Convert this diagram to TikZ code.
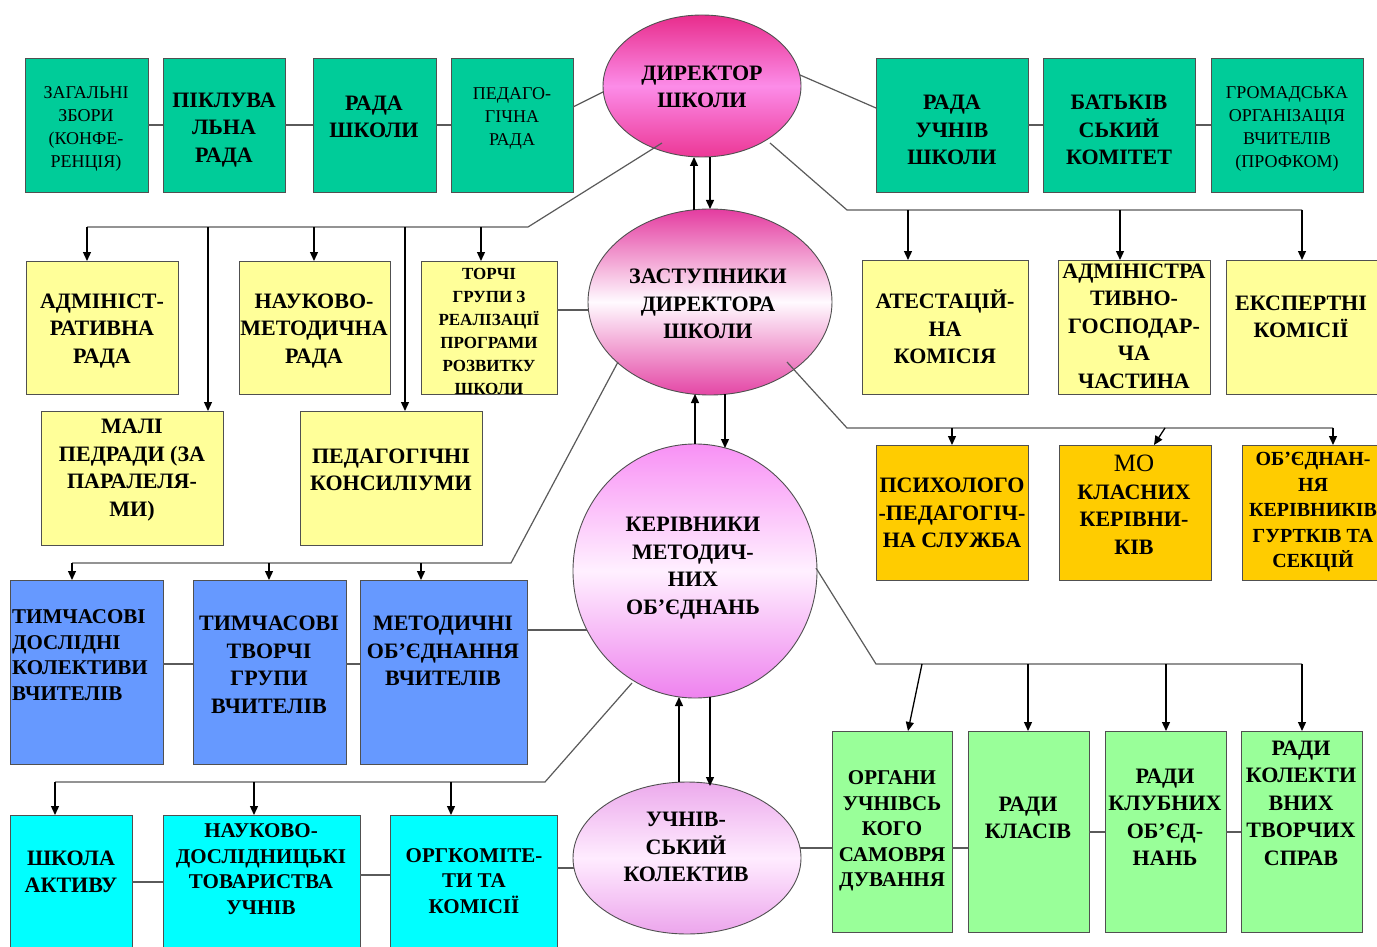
\documentclass[tikz,border=0pt]{standalone}
\usepackage{fontspec}
\setmainfont{Liberation Serif}
\usetikzlibrary{shapes.geometric,arrows.meta,calc}
\definecolor{cTeal}{RGB}{0,204,153}
\definecolor{cYel}{RGB}{255,255,153}
\definecolor{cOra}{RGB}{255,204,0}
\definecolor{cBlue}{RGB}{102,153,255}
\definecolor{cCyan}{RGB}{0,255,255}
\definecolor{cGreen}{RGB}{153,255,153}
\definecolor{cLine}{RGB}{90,90,90}
\definecolor{cEdge}{RGB}{80,80,80}
\definecolor{dTop}{RGB}{232,45,140}
\definecolor{dMid}{RGB}{252,140,232}
\definecolor{dBot}{RGB}{236,55,150}
\definecolor{zTop}{RGB}{228,60,160}
\definecolor{zMid}{RGB}{255,250,255}
\definecolor{zBot}{RGB}{228,70,165}
\definecolor{kTop}{RGB}{248,145,245}
\definecolor{kMid}{RGB}{255,240,255}
\definecolor{kBot}{RGB}{238,130,238}
\definecolor{uTop}{RGB}{236,170,236}
\definecolor{uMid}{RGB}{255,236,255}
\definecolor{uBot}{RGB}{236,165,236}
\newcommand\rbox[6]{\node[boxst, fill=#6, anchor=north west, minimum width={(#4-#2)*1pt}, minimum height={(#5-#3)*1pt}] (#1) at (#2,#3) {};}
\begin{document}
\begin{tikzpicture}[x=1pt,y=-1pt,
  boxst/.style={draw=cEdge, line width=0.9pt, inner sep=0pt, outer sep=0pt},
  ell/.style={ellipse, draw=cEdge, line width=0.9pt, inner sep=0pt, outer sep=0pt},
  tA/.style={font=\fontsize{22}{27.5}\selectfont\bfseries, align=center, inner sep=0pt},
  tS/.style={font=\fontsize{18}{23}\selectfont, align=center, inner sep=0pt},
  tT/.style={font=\fontsize{17}{23}\selectfont\bfseries, align=center, inner sep=0pt},
  tB/.style={font=\fontsize{21}{25.5}\selectfont\bfseries, align=center, inner sep=0pt},
  conn/.style={draw=cLine, line width=1.2pt},
  arr/.style={draw=black, line width=1.3pt, -{Triangle[length=9pt,width=8pt]}}]
\useasboundingbox (0,0) rectangle (1377,947);
\clip (0,0) rectangle (1377,947);
\fill[white] (0,0) rectangle (1377,947);
% ---- boxes ----
\rbox{b1}{25}{58}{148}{192}{cTeal}
\rbox{b2}{163}{58}{285}{192}{cTeal}
\rbox{b3}{313}{58}{436}{192}{cTeal}
\rbox{b4}{451}{58}{573}{192}{cTeal}
\rbox{r1}{876}{58}{1028}{192}{cTeal}
\rbox{r2}{1043}{58}{1195}{192}{cTeal}
\rbox{r3}{1211}{58}{1363}{192}{cTeal}
\rbox{adm}{26}{261}{178}{394}{cYel}
\rbox{nmr}{239}{261}{390}{394}{cYel}
\rbox{tg}{421}{261}{557}{394}{cYel}
\rbox{mp}{41}{411}{223}{545}{cYel}
\rbox{pk}{300}{411}{482}{545}{cYel}
\rbox{at}{862}{260}{1028}{394}{cYel}
\rbox{ag}{1058}{260}{1210}{394}{cYel}
\rbox{ek}{1226}{260}{1395}{394}{cYel}
\rbox{ps}{876}{445}{1028}{580}{cOra}
\rbox{mk}{1059}{445}{1211}{580}{cOra}
\rbox{ob}{1242}{445}{1395}{580}{cOra}
\rbox{td}{10}{580}{163}{764}{cBlue}
\rbox{tt}{193}{580}{346}{764}{cBlue}
\rbox{mt}{360}{580}{527}{764}{cBlue}
\rbox{sa}{10}{815}{132}{960}{cCyan}
\rbox{nd}{163}{815}{360}{960}{cCyan}
\rbox{ok}{390}{815}{557}{960}{cCyan}
\rbox{g1}{832}{731}{952}{932}{cGreen}
\rbox{g2}{968}{731}{1089}{932}{cGreen}
\rbox{g3}{1105}{731}{1226}{932}{cGreen}
\rbox{g4}{1241}{731}{1362}{932}{cGreen}
% ---- ellipses ----
\node[ell, minimum width=198pt, minimum height=142pt, top color=dTop, bottom color=dBot, middle color=dMid] (dir) at (702,86) {};
\node[ell, minimum width=244pt, minimum height=186pt, top color=zTop, bottom color=zBot, middle color=zMid] (zast) at (710,302) {};
\node[ell, minimum width=244pt, minimum height=254pt, top color=kTop, bottom color=kBot, middle color=kMid] (ker) at (695,571) {};
\node[ell, minimum width=228pt, minimum height=152pt, top color=uTop, bottom color=uBot, middle color=uMid] (uch) at (687,858) {};
% ---- plain connectors ----
\draw[conn] (b1.east) -- (b2.west);
\draw[conn] (b2.east) -- (b3.west);
\draw[conn] (b3.east) -- (b4.west);
\draw[conn] (r1.east) -- (r2.west);
\draw[conn] (r2.east) -- (r3.west);
\draw[conn] ($(dir.center)+(-99,6)$) -- (b4.east |- 0,107);
\draw[conn] ($(dir.center)+(98,-11)$) -- (r1.west |- 0,108);
\draw[conn] (tg.east |- 0,310) -- ($(zast.center)+(-122,8)$);
\draw[conn] (mt.east |- 0,630) -- ($(ker.center)+(-108,59)$);
\draw[conn] (td.east |- 0,664) -- (tt.west |- 0,664);
\draw[conn] (tt.east |- 0,664) -- (mt.west |- 0,664);
\draw[conn] (sa.east |- 0,882) -- (nd.west |- 0,882);
\draw[conn] (nd.east |- 0,875) -- (ok.west |- 0,875);
\draw[conn] (ok.east |- 0,868) -- ($(uch.center)+(-113,10)$);
\draw[conn] ($(uch.center)+(113,-10)$) -- (g1.west |- 0,848);
\draw[conn] (g1.east |- 0,848) -- (g2.west |- 0,848);
\draw[conn] (g2.east |- 0,832) -- (g3.west |- 0,832);
\draw[conn] (g3.east |- 0,832) -- (g4.west |- 0,832);
% ---- buses ----
\coordinate (LA) at (528,227);
\draw[conn] ($(dir.center)+(-40,57)$) -- (LA) -- (87,227);
\foreach \x/\t in {87/adm,208/mp,314/nmr,405/pk,481/tg}
  \draw[arr] (\x,227) -- (\x,0 |- \t.north);
\coordinate (RA) at (847,210);
\draw[conn] ($(dir.center)+(68,57)$) -- (RA) -- (1302,210);
\foreach \x/\t in {908/at,1120/ag,1302/ek}
  \draw[arr] (\x,210) -- (\x,0 |- \t.north);
\coordinate (RB) at (847,428);
\draw[conn] ($(zast.center)+(77,60)$) -- (RB) -- (1333,428);
\draw[arr] (952,428) -- (952,0 |- ps.north);
\draw[arr] (1165,428) -- (1154,0 |- mk.north);
\draw[arr] (1333,428) -- (1333,0 |- ob.north);
\coordinate (LB) at (511,563);
\draw[conn] ($(zast.center)+(-92,60)$) -- (LB) -- (72,563);
\foreach \x/\t in {72/td,269/tt,421/mt}
  \draw[arr] (\x,563) -- (\x,0 |- \t.north);
\coordinate (LC) at (545,782);
\draw[conn] ($(ker.center)+(-63,112)$) -- (LC) -- (55,782);
\foreach \x/\t in {55/sa,254/nd,451/ok}
  \draw[arr] (\x,782) -- (\x,0 |- \t.north);
\coordinate (RC) at (876,664);
\draw[conn] ($(ker.center)+(121,-3)$) -- (RC) -- (1302,664);
\draw[arr] (922,664) -- (908,0 |- g1.north);
\foreach \x/\t in {1028/g2,1166/g3,1302/g4}
  \draw[arr] (\x,664) -- (\x,0 |- \t.north);
% ---- arrows between ellipses ----
\draw[arr] ($(zast.center)+(-16,-92)$) -- ($(dir.center)+(-8,71)$);
\draw[arr] ($(dir.center)+(8,71)$) -- ($(zast.center)+(0,-93)$);
\draw[arr] ($(ker.center)+(0,-127)$) -- ($(zast.center)+(-15,92)$);
\draw[arr] ($(zast.center)+(15,92)$) -- ($(ker.center)+(30,-123)$);
\draw[arr] ($(uch.center)+(-8,-76)$) -- ($(ker.center)+(-16,126)$);
\draw[arr] ($(ker.center)+(15,126)$) -- ($(uch.center)+(23,-72)$);
% ---- texts ----
\node[tS] (b1t) at (86,129) {ЗАГАЛЬНІ\\ЗБОРИ\\(КОНФЕ-\\РЕНЦІЯ)};
\node[tA] (b2t) at (224,130) {ПІКЛУВА\\ЛЬНА\\РАДА};
\node[tA] (b3t) at (374,117) {РАДА\\ШКОЛИ};
\node[tS] (b4t) at (512,118) {ПЕДАГО-\\ГІЧНА\\РАДА};
\node[tA] (r1t) at (952,130) {РАДА\\УЧНІВ\\ШКОЛИ};
\node[tA] (r2t) at (1119,130) {БАТЬКІВ\\СЬКИЙ\\КОМІТЕТ};
\node[tS] (r3t) at (1287,129) {ГРОМАДСЬКА\\ОРГАНІЗАЦІЯ\\ВЧИТЕЛІВ\\(ПРОФКОМ)};
\node[tA] (dirt) at (702,87) {ДИРЕКТОР\\ШКОЛИ};
\node[tA] (admt) at (102,331) {АДМІНІСТ-\\РАТИВНА\\РАДА};
\node[tA] (nmrt) at (314,331) {НАУКОВО-\\МЕТОДИЧНА\\РАДА};
\node[tT] (tgt) at (489,331) {ТОРЧІ\\ГРУПИ З\\РЕАЛІЗАЦІЇ\\ПРОГРАМИ\\РОЗВИТКУ\\ШКОЛИ};
\node[tA] (mpt) at (132,470) {МАЛІ\\ПЕДРАДИ (ЗА\\ПАРАЛЕЛЯ-\\МИ)};
\node[tA] (pkt) at (391,470) {ПЕДАГОГІЧНІ\\КОНСИЛІУМИ};
\node[tA] (zastt) at (708,304) {ЗАСТУПНИКИ\\ДИРЕКТОРА\\ШКОЛИ};
\node[tA] (att) at (945,327) {АТЕСТАЦІЙ-\\НА\\КОМІСІЯ};
\node[tA] (agt) at (1134,326) {АДМІНІСТРА\\ТИВНО-\\ГОСПОДАР-\\ЧА\\ЧАСТИНА};
\node[tA] (ekt) at (1301,317) {ЕКСПЕРТНІ\\КОМІСІЇ};
\node[tA] (pst) at (952,513) {ПСИХОЛОГО\\-ПЕДАГОГІЧ-\\НА СЛУЖБА};
\node[tA] (mkt) at (1134,505) {{\mdseries\fontsize{25}{28}\selectfont МО}\\КЛАСНИХ\\КЕРІВНИ-\\КІВ};
\node[tB, font=\fontsize{20}{25.5}\selectfont\bfseries] (obt) at (1313,512) {ОБ’ЄДНАН-\\НЯ\\КЕРІВНИКІВ\\ГУРТКІВ ТА\\СЕКЦІЙ};
\node[tA] (kert) at (693,568) {КЕРІВНИКИ\\МЕТОДИЧ-\\НИХ\\ОБ’ЄДНАНЬ};
\node[tB, align=left, anchor=west] (tdt) at (12,655) {ТИМЧАСОВІ\\ДОСЛІДНІ\\КОЛЕКТИВИ\\ВЧИТЕЛІВ};
\node[tA] (ttt) at (269,665) {ТИМЧАСОВІ\\ТВОРЧІ\\ГРУПИ\\ВЧИТЕЛІВ};
\node[tA] (mtt) at (443,651) {МЕТОДИЧНІ\\ОБ’ЄДНАННЯ\\ВЧИТЕЛІВ};
\node[tA] (sat) at (71,872) {ШКОЛА\\АКТИВУ};
\node[tB] (ndt) at (261,869) {НАУКОВО-\\ДОСЛІДНИЦЬКІ\\ТОВАРИСТВА\\УЧНІВ};
\node[tB] (okt) at (474,881) {ОРГКОМІТЕ-\\ТИ ТА\\КОМІСІЇ};
\node[tA] (ucht) at (686,847) {УЧНІВ-\\СЬКИЙ\\КОЛЕКТИВ};
\node[tB] (g1t) at (892,831) {ОРГАНИ\\УЧНІВСЬ\\КОГО\\САМОВРЯ\\ДУВАННЯ};
\node[tA] (g2t) at (1028,818) {РАДИ\\КЛАСІВ};
\node[tA] (g3t) at (1165,817) {РАДИ\\КЛУБНИХ\\ОБ’ЄД-\\НАНЬ};
\node[tA] (g4t) at (1301,803) {РАДИ\\КОЛЕКТИ\\ВНИХ\\ТВОРЧИХ\\СПРАВ};
\end{tikzpicture}
\end{document}
